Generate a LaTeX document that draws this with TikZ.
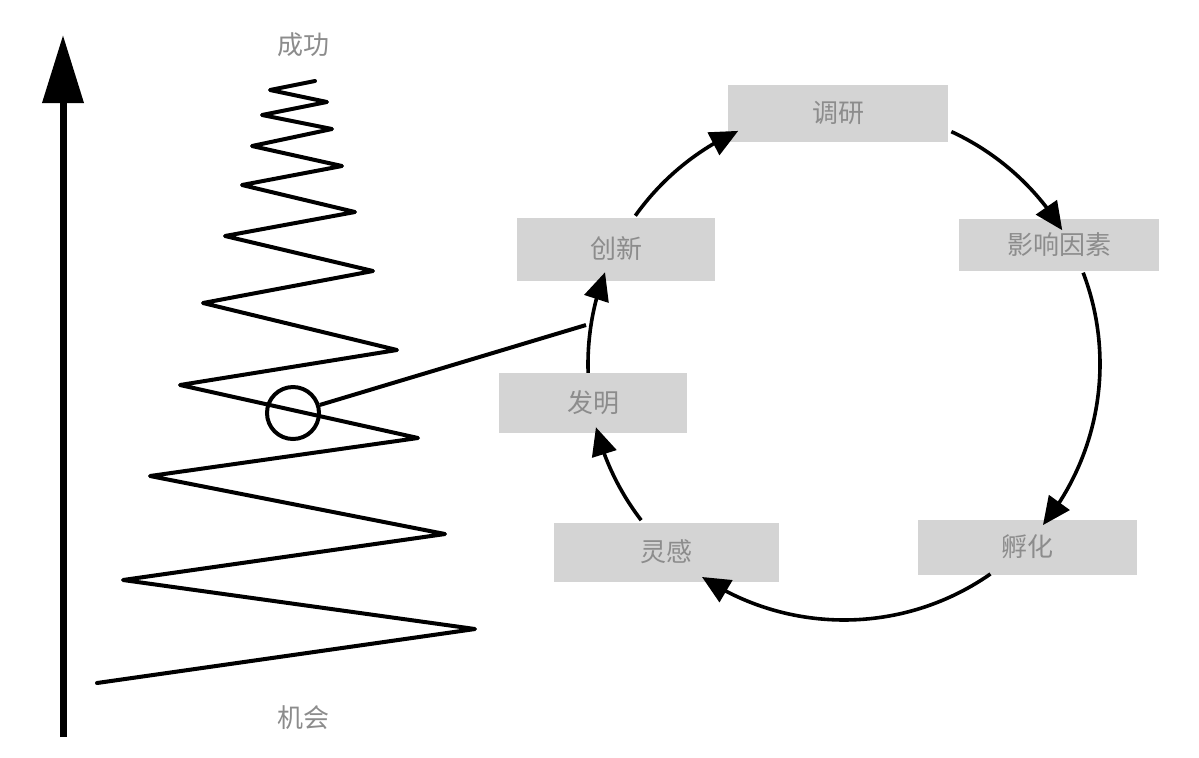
\documentclass[tikz,border=0pt]{standalone}
\usepackage{fontspec}
\setmainfont{Noto Sans CJK SC}
\usetikzlibrary{arrows.meta,bending}
\definecolor{boxgray}{HTML}{D4D4D4}
\definecolor{labelgray}{HTML}{8C8C8C}
\tikzset{
  stagebox/.style={rectangle, fill=boxgray, inner sep=0pt, text=labelgray,
    font=\fontsize{13pt}{15pt}\selectfont},
  axislabel/.style={text=labelgray, font=\fontsize{13pt}{15pt}\selectfont},
  cyclearrow/.style={line width=1.8pt, -{Triangle[length=14pt,width=12.5pt]}},
  zigzag/.style={line width=2pt, line join=round, line cap=round},
}
\begin{document}
\begin{tikzpicture}[x=0.5pt, y=-0.5pt]
\useasboundingbox (0,0) rectangle (1199,757);
\fill[white] (0,0) rectangle (1199,757);

% rising axis
\coordinate (axisbottom) at (63,737);
\coordinate (axistop) at (63,35);
\draw[line width=3.5pt, -{Triangle[length=34pt,width=20pt]}] (axisbottom) -- (axistop);

\node[axislabel] (success) at (303,45) {成功};
\node[axislabel] (chance) at (303,718) {机会};

% zigzag path of attempts
\draw[zigzag] (97,683) -- (475,629) -- (123,580) -- (445,534) -- (150,476)
  -- (418,438) -- (180,385) -- (397,350) -- (203,303) -- (373,271)
  -- (225,236) -- (355,212) -- (242,185) -- (342,166) -- (252,146)
  -- (332,129) -- (262,115) -- (327,102) -- (270,90) -- (315,81);

% magnified point
\node[draw, circle, line width=2pt, minimum size=26pt, inner sep=0pt] (hub) at (293,413) {};
\coordinate (tap) at (586,325);
\draw[line width=2pt] (hub) -- (tap);

% stages of the cycle
\node[stagebox, minimum width=110pt, minimum height=28.5pt] (research) at (838,113) {调研};
\node[stagebox, minimum width=100pt, minimum height=26pt] (factors) at (1059,245) {影响因素};
\node[stagebox, minimum width=109.5pt, minimum height=27.5pt] (incubate) at (1027,547) {孵化};
\node[stagebox, minimum width=112.5pt, minimum height=29.5pt] (inspire) at (666,552) {灵感};
\node[stagebox, minimum width=94pt, minimum height=30pt] (invent) at (593,403) {发明};
\node[stagebox, minimum width=99pt, minimum height=31.5pt] (innovate) at (616,249) {创新};

% cycle arrows, arcs of one circle
\coordinate (C) at (844,364);
\draw[cyclearrow] ([shift={(C)}]-144.6:256) arc[start angle=-144.6, end angle=-114.4, radius=256];
\draw[cyclearrow] ([shift={(C)}]-65.2:256) arc[start angle=-65.2, end angle=-31.5, radius=256];
\draw[cyclearrow] ([shift={(C)}]-20.9:256) arc[start angle=-20.9, end angle=39, radius=256];
\draw[cyclearrow] ([shift={(C)}]55.1:256) arc[start angle=55.1, end angle=123.7, radius=256];
\draw[cyclearrow] ([shift={(C)}]142.4:256) arc[start angle=142.4, end angle=165.7, radius=256];
\draw[cyclearrow] ([shift={(C)}]178:256) arc[start angle=178, end angle=201, radius=256];
\end{tikzpicture}
\end{document}
